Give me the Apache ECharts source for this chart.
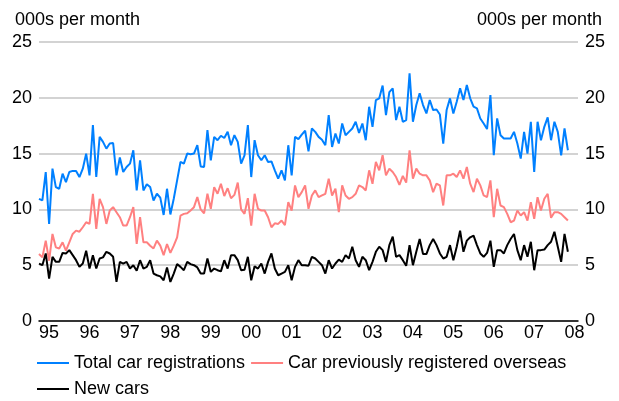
<!DOCTYPE html>
<html>
<head>
<meta charset="utf-8">
<script src="https://cdn.jsdelivr.net/npm/echarts@6/dist/echarts.min.js"></script>
<style>
html, body { margin: 0; padding: 0; background: #fff; }
#chartmain { width: 619px; height: 401px; }
</style>
</head>
<body>
<div id="chartmain"></div>
<script>
// monthly data, Jan 1995 onwards (thousands per month)
var yearLabels = ['95', '96', '97', '98', '99', '00', '01', '02', '03', '04', '05', '06', '07', '08'];
var seriesNames = ['Total car registrations', 'Car previously registered overseas', 'New cars'];

var totalCars = [
	10.95, 10.8, 13.35, 8.7, 13.65, 12.0, 11.85, 13.2, 12.45, 13.35, 13.45, 13.45, 12.9, 13.65, 15.0, 13.05, 17.55, 12.9, 16.5, 16.05, 15.45, 15.9, 15.95, 13.05, 14.65, 13.35, 13.8, 14.1,
	15.3, 11.7, 14.4, 11.7, 12.25, 12.0, 10.8, 11.4, 11.05, 9.5, 11.85, 9.55, 10.95, 12.6, 14.25, 14.1, 15.0, 14.95, 15.0, 15.75, 13.85, 13.8, 17.1, 14.4, 16.5, 16.2,
	16.6, 16.4, 16.95, 15.75, 16.65, 16.05, 14.1, 14.85, 17.55, 12.9, 16.2, 14.85, 14.4, 14.85, 14.25, 14.3, 13.5, 12.75, 13.5, 12.6, 15.75, 13.05, 16.5, 16.3, 16.7, 17.05, 15.2,
	17.25, 16.95, 16.5, 16.25, 15.75, 18.45, 15.6, 16.8, 15.9, 17.7, 16.65, 16.95, 17.25, 17.85, 16.85, 17.7, 16.2, 19.2, 17.4, 19.8, 19.95, 21.1, 18.45, 20.5, 20.85,
	18.0, 19.2, 17.85, 18.0, 22.2, 17.85, 19.35, 20.4, 19.35, 18.6, 19.8, 18.9, 18.95, 18.5, 15.9, 18.9, 19.95, 18.6, 19.65, 20.85, 19.8, 21.15, 19.95, 19.2, 19.05, 18.15, 17.7, 17.2,
	20.25, 14.85, 18.15, 16.65, 16.35, 16.35, 16.35, 16.95, 15.9, 14.55, 16.95, 15.0, 17.85, 13.35, 17.85, 16.2, 17.4, 18.25, 16.2, 17.85, 16.95, 14.85, 17.25, 15.3
];
var overseasCars = [
	6.0, 5.7, 7.2, 5.4, 7.8, 6.6, 6.5, 7.05, 6.3, 7.05, 7.8, 8.1, 8.0, 8.4, 8.85, 8.7, 11.4, 8.25, 10.95, 10.2, 8.7, 9.9, 10.2, 9.75, 9.3, 8.55, 8.55, 9.3,
	10.2, 6.9, 9.3, 7.05, 7.05, 6.75, 6.5, 7.2, 6.75, 5.9, 6.9, 6.1, 6.75, 7.5, 9.45, 9.6, 9.65, 9.9, 10.2, 11.1,
	10.0, 9.65, 11.4, 10.05, 12.0, 11.4, 12.3, 11.2, 11.9, 11.0, 11.3, 12.4, 10.0, 9.6, 11.0, 8.55, 11.4, 10.05, 9.9, 9.9, 9.3, 8.4, 8.75, 8.7, 9.0, 8.6, 10.65, 9.9, 12.15, 11.1, 11.55, 12.15,
	10.05, 11.25, 11.7, 11.1, 11.25, 11.4, 12.75, 11.25, 11.85, 9.75, 12.15, 11.25, 10.95, 11.1, 11.4, 12.15, 12.0, 11.7, 13.5, 12.3, 14.25, 13.5, 14.85, 13.05, 13.65, 13.35, 12.9, 12.2,
	13.0, 12.4, 15.3, 12.75, 13.65, 13.2, 13.05, 13.05, 12.6, 11.55, 12.3, 12.15, 10.35, 13.05, 13.05, 13.2, 12.9, 13.5, 12.75, 13.8, 12.3, 11.55, 12.75, 12.15, 11.25, 11.1,
	12.6, 9.3, 11.85, 10.35, 10.2, 9.6, 8.85, 9.0, 9.9, 9.45, 9.75, 9.0, 10.65, 9.15, 11.1, 9.9, 10.95, 11.4, 9.25, 9.75, 9.75, 9.6, 9.3, 9.0
];
var newCars = [
	5.15, 5.0, 6.05, 3.8, 5.75, 5.3, 5.3, 6.1, 6.05, 6.35, 5.9, 5.45, 4.85, 5.15, 6.3, 4.7, 5.9, 4.7, 5.6, 5.7, 6.2, 6.05, 5.75, 3.5, 5.3, 5.15, 5.3, 4.7,
	5.0, 4.5, 5.45, 4.7, 4.85, 5.45, 4.25, 4.1, 4.0, 3.65, 4.8, 3.5, 4.25, 5.1, 4.85, 4.55, 5.3, 5.1, 5.0, 4.8, 4.25, 4.25, 5.6, 4.4, 4.7, 4.55,
	4.45, 5.45, 4.7, 5.9, 5.9, 5.45, 4.55, 4.6, 5.75, 3.65, 4.9, 4.7, 5.15, 4.25, 5.3, 6.05, 4.7, 4.1, 4.25, 4.4, 5.0, 3.65, 4.85, 5.45, 5.0, 5.0,
	4.95, 5.75, 5.6, 5.3, 5.0, 4.25, 5.45, 4.7, 5.15, 5.5, 5.3, 5.9, 5.6, 6.65, 5.45, 4.85, 5.75, 5.45, 4.55, 5.3, 6.2, 6.65, 6.35, 5.3, 6.8, 7.55, 5.75,
	5.9, 5.45, 4.95, 6.8, 5.0, 6.2, 7.35, 6.0, 6.0, 6.8, 7.35, 6.8, 6.05, 5.6, 5.75, 6.8, 5.45, 6.65, 8.1, 6.2, 7.2, 7.5, 7.65, 6.8, 6.05, 5.75, 6.1,
	7.2, 4.85, 6.35, 6.35, 6.05, 6.8, 7.35, 7.8, 6.35, 5.45, 6.8, 5.75, 7.1, 4.55, 6.35, 6.35, 6.4, 6.8, 7.1, 8.0, 6.65, 5.3, 7.8, 6.2
];
var colors = ['#0080ff', '#ff8080', '#000000'];

function toPoints(arr) {
	var out = [];
	for (var i = 0; i < arr.length; i++) {
		out.push([i, arr[i]]);
	}
	return out;
}

var font = 'Liberation Sans, Arial, sans-serif';
var yAxisBase = {
	type : 'value',
	min : 0,
	max : 25,
	interval : 5,
	axisLine : { show : false },
	axisTick : { show : false },
	axisLabel : { fontSize : 18, color : '#000', fontFamily : font, margin : 7 }
};

var option = {
	animation : false,
	textStyle : { fontFamily : font },
	title : [
		{ text : '000s per month', left : 10, top : 6, textStyle : { fontSize : 18, fontWeight : 'normal', color : '#000' } },
		{ text : '000s per month', right : 12, top : 6, textStyle : { fontSize : 18, fontWeight : 'normal', color : '#000' } }
	],
	grid : { left : 39, right : 41, top : 42, bottom : 80, containLabel : false },
	legend : {
		data : seriesNames,
		left : 37,
		top : 353,
		width : 550,
		padding : 0,
		itemGap : 6,
		itemWidth : 32,
		itemHeight : 2,
		icon : 'rect',
		textStyle : { fontSize : 18, color : '#000', lineHeight : 20 }
	},
	xAxis : {
		type : 'value',
		min : 0,
		max : 160,
		interval : 12,
		axisLine : { show : true, lineStyle : { color : '#000', width : 1.5 } },
		axisTick : { show : false },
		splitLine : { show : false },
		axisLabel : {
			fontSize : 18,
			color : '#000',
			align : 'left',
			margin : 3,
			showMaxLabel : false,
			formatter : function(v) {
				return yearLabels[v / 12] || '';
			}
		}
	},
	yAxis : [
		Object.assign({}, yAxisBase, {
			position : 'left',
			splitLine : { show : true, lineStyle : { color : '#c4c4c4', width : 1.5 } }
		}),
		Object.assign({}, yAxisBase, {
			position : 'right',
			splitLine : { show : false }
		})
	],
	series : [
		{ name : seriesNames[0], type : 'line', data : toPoints(totalCars), showSymbol : false, lineStyle : { color : colors[0], width : 2 }, itemStyle : { color : colors[0] } },
		{ name : seriesNames[1], type : 'line', data : toPoints(overseasCars), showSymbol : false, lineStyle : { color : colors[1], width : 2 }, itemStyle : { color : colors[1] } },
		{ name : seriesNames[2], type : 'line', data : toPoints(newCars), showSymbol : false, lineStyle : { color : colors[2], width : 2 }, itemStyle : { color : colors[2] } }
	]
};

var myChart = echarts.init(document.getElementById('chartmain'));
myChart.setOption(option);
</script>
</body>
</html>
